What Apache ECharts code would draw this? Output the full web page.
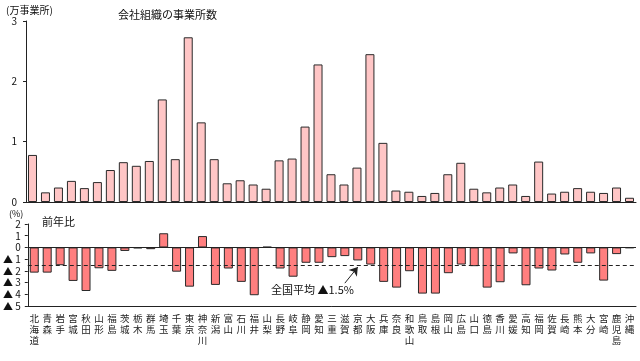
<!DOCTYPE html>
<html><head><meta charset="utf-8">
<script src="https://cdn.jsdelivr.net/npm/echarts@6/dist/echarts.min.js"></script>
<style>html,body{margin:0;padding:0;background:#fff}#c{width:640px;height:361px}</style>
</head><body><div id="c"></div>
<script>
const prefs = ['北海道','青森','岩手','宮城','秋田','山形','福島','茨城','栃木','群馬','埼玉','千葉','東京','神奈川','新潟','富山','石川','福井','山梨','長野','岐阜','静岡','愛知','三重','滋賀','京都','大阪','兵庫','奈良','和歌山','鳥取','島根','岡山','広島','山口','徳島','香川','愛媛','高知','福岡','佐賀','長崎','熊本','大分','宮崎','鹿児島','沖縄'];
const counts = [0.78,0.16,0.24,0.35,0.23,0.33,0.53,0.66,0.60,0.68,1.70,0.71,2.73,1.32,0.71,0.31,0.36,0.29,0.22,0.69,0.72,1.25,2.28,0.46,0.29,0.57,2.45,0.98,0.19,0.17,0.10,0.15,0.46,0.65,0.22,0.16,0.24,0.29,0.10,0.67,0.14,0.17,0.23,0.17,0.15,0.24,0.07];
const change = [-2.15,-2.15,-1.52,-2.86,-3.72,-1.78,-2.0,-0.30,-0.07,-0.15,1.21,-2.07,-3.35,0.97,-3.2,-1.8,-2.94,-4.08,0.05,-1.8,-2.5,-1.31,-1.31,-0.83,-0.74,-1.11,-1.46,-2.94,-3.43,-2.03,-3.94,-3.94,-2.2,-1.46,-1.6,-3.43,-2.97,-0.51,-3.23,-1.8,-1.97,-0.6,-1.31,-0.51,-2.83,-0.57,-0.05];
const nationalAvg = -1.5;
const topTicks = [0,1,2,3];
const bottomTicks = [2,1,0,-1,-2,-3,-4,-5];

const font = '"Noto Sans CJK JP", sans-serif';
const chart = echarts.init(document.getElementById('c'), null, {renderer:'canvas'});
const axisLineStyle = {color:'#222', width:1};
chart.setOption({
  animation:false,
  textStyle:{fontFamily:font},
  grid:[
    {left:26, right:4, top:21, height:181},
    {left:26, right:4, top:224, height:82}
  ],
  xAxis:[
    {gridIndex:0, type:'category', data:prefs, axisLine:{lineStyle:axisLineStyle}, axisTick:{show:false}, axisLabel:{show:false}},
    {gridIndex:1, type:'category', data:prefs, position:'bottom', axisLine:{onZero:false, lineStyle:axisLineStyle}, axisTick:{show:false},
     axisLabel:{interval:0, margin:7, fontSize:9.5, lineHeight:11, color:'#222', fontFamily:font, formatter:v=>v.split('').join('\n')}}
  ],
  yAxis:[
    {gridIndex:0, type:'value', min:topTicks[0], max:topTicks[topTicks.length-1], interval:1, splitLine:{show:false},
     axisLine:{show:true, lineStyle:axisLineStyle}, axisTick:{show:true, length:3, lineStyle:axisLineStyle},
     axisLabel:{margin:9, fontSize:10, color:'#111', fontFamily:font}},
    {gridIndex:1, type:'value', min:bottomTicks[bottomTicks.length-1], max:bottomTicks[0], interval:1, splitLine:{show:false},
     axisLine:{show:true, lineStyle:axisLineStyle}, axisTick:{show:true, length:3, lineStyle:axisLineStyle},
     axisLabel:{margin:7, fontSize:10, color:'#111', fontFamily:font, formatter:v=> v<0 ? '▲ '+(-v) : String(v)}}
  ],
  series:[
    {type:'bar', xAxisIndex:0, yAxisIndex:0, data:counts, barWidth:9,
     itemStyle:{color:'#ffc6c6', borderColor:'#2a2a2a', borderWidth:1}},
    {type:'bar', xAxisIndex:1, yAxisIndex:1, data:change, barWidth:9,
     itemStyle:{color:'#ff7f7f', borderColor:'#2a2a2a', borderWidth:1},
     markLine:{silent:true, symbol:'none', label:{show:false}, animation:false,
       data:[
         {yAxis:0, lineStyle:{color:'#222', width:1, type:'solid'}},
         {yAxis:nationalAvg, lineStyle:{color:'#222', width:1, type:[4,3]}},
         [{coord:[24.1,-3.05], symbol:'none', lineStyle:{color:'#222', width:1, type:'solid'}},
          {coord:[25.2,-1.68], symbol:'arrow', symbolSize:8}]
       ]}}
  ],
  graphic:[
    {type:'text', left:6, top:5, style:{text:'(万事業所)', font:'10px '+font, fill:'#111'}},
    {type:'text', left:118, top:9, style:{text:'会社組織の事業所数', font:'11px '+font, fill:'#111'}},
    {type:'text', left:9, top:209, style:{text:'(%)', font:'9px '+font, fill:'#111'}},
    {type:'text', left:42, top:216, style:{text:'前年比', font:'11px '+font, fill:'#111'}},
    {type:'text', left:271, top:284, style:{text:'全国平均 ▲1.5%', font:'11px '+font, fill:'#111'}}
  ]
});
</script></body></html>
